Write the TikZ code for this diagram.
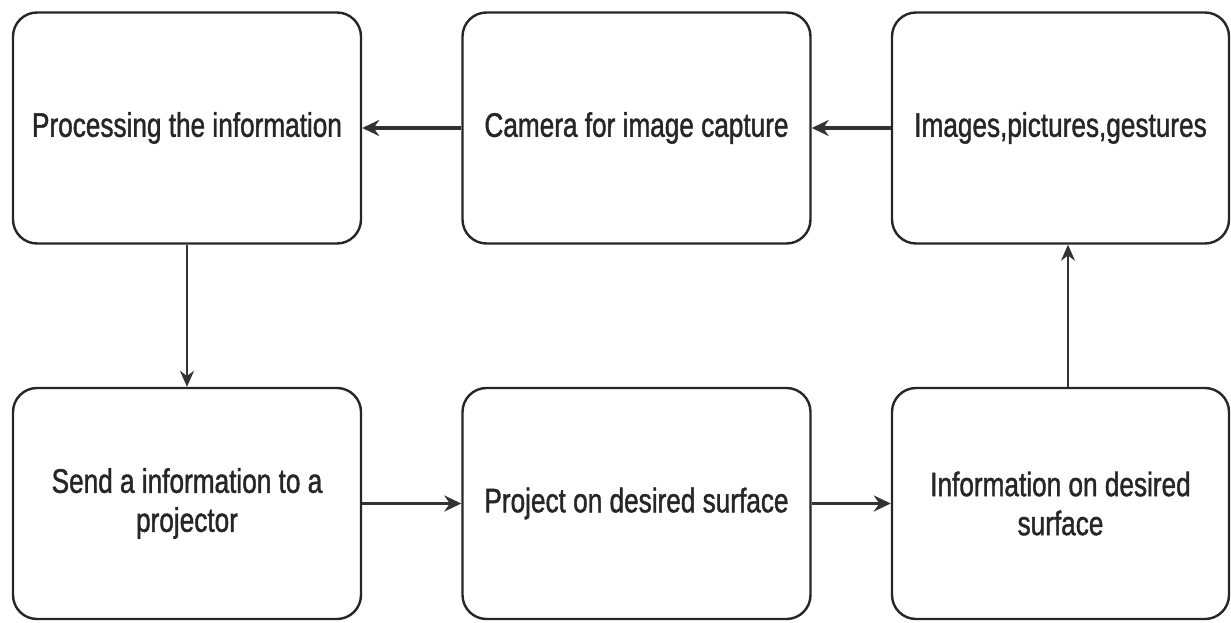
\documentclass[tikz,border=0pt]{standalone}
\usepackage{fontspec}
\setmainfont[FakeStretch=0.77,FakeBold=1.2]{Liberation Sans}
\usetikzlibrary{arrows.meta}
\begin{document}
\begin{tikzpicture}[x=1pt,y=-1pt,
  box/.style={draw=black!85, line width=2.4pt, rounded corners=24pt, minimum width=348pt, minimum height=231pt, inner sep=0pt, align=center, font=\fontsize{34}{39}\selectfont, text=black!85},
  arr/.style={draw=black!80, line width=3.4pt, -{Stealth[length=17pt,width=16pt]}},
  thinarr/.style={draw=black!80, line width=2.2pt, -{Stealth[length=16pt,width=14pt]}}]
\useasboundingbox (0,0) rectangle (1231,623);
\node[box] (proc) at (187,128) {Processing the information};
\node[box] (cam) at (636.5,128) {Camera for image capture};
\node[box, minimum width=337pt] (img) at (1060.5,128) {Images,pictures,gestures};
\node[box] (send) at (187,503.5) {Send a information to a\\projector};
\node[box] (proj) at (636.5,503.5) {Project on desired surface};
\node[box, minimum width=337pt] (info) at (1060.5,503.5) {Information on desired\\surface};
\draw[arr] (cam) -- (proc);
\draw[arr] (img) -- (cam);
\draw[thinarr] (proc) -- (send);
\draw[arr] (send) -- (proj);
\draw[arr] (proj) -- (info);
\draw[thinarr] ([xshift=7.5pt]info.north) -- ([xshift=7.5pt]img.south);
\end{tikzpicture}
\end{document}
